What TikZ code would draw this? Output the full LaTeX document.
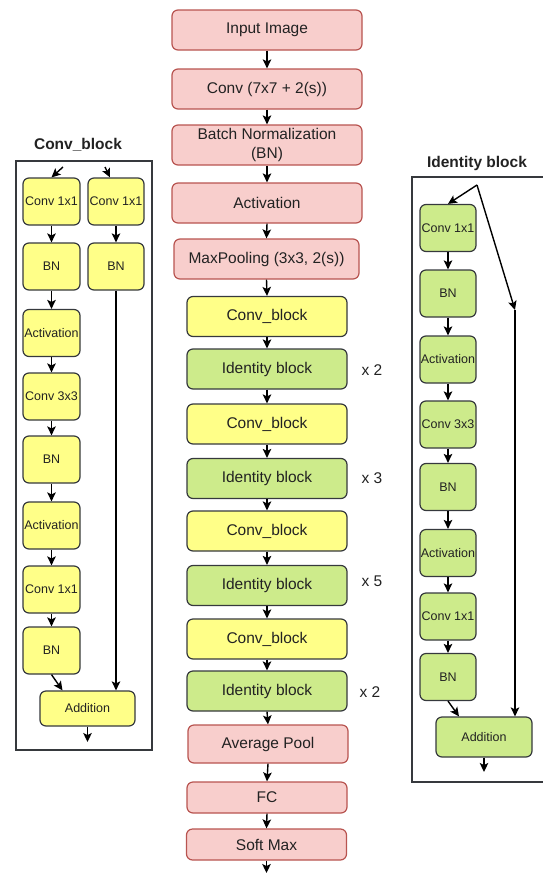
\documentclass[tikz,border=0pt]{standalone}
\usepackage{fontspec}
\setmainfont{Liberation Sans}
\usetikzlibrary{arrows.meta}

\definecolor{pinkfill}{HTML}{F8CECC}
\definecolor{pinkline}{HTML}{B85450}
\definecolor{yelfill}{HTML}{FFFF88}
\definecolor{grnfill}{HTML}{CDEB8B}
\definecolor{boxline}{HTML}{36393D}
\definecolor{txt}{HTML}{222222}

\begin{document}
\begin{tikzpicture}[x=1pt,y=-1pt,
 box/.style={rounded corners=6pt,line width=1.2pt,inner sep=0pt,align=center,text=txt},
 pinkbox/.style={box,draw=pinkline,fill=pinkfill,minimum width=190pt,minimum height=40pt,
   font=\fontsize{15.5}{19}\selectfont},
 midbox/.style={box,draw=boxline,minimum width=160pt,minimum height=40pt,
   font=\fontsize{15.5}{19}\selectfont},
 smallbox/.style={box,draw=boxline,minimum width=57pt,minimum height=47pt,
   font=\fontsize{12.5}{15}\selectfont},
 title/.style={font=\fontsize{15.5}{19}\selectfont\bfseries,text=txt},
 times/.style={font=\fontsize{15.5}{19}\selectfont,text=txt},
 frame/.style={draw=boxline,line width=1.5pt},
 arr/.style={-{Stealth[length=9pt,width=8.5pt,inset=2pt]},line width=1.4pt}
]
\useasboundingbox (0,0) rectangle (542,873);

% main column
\node[pinkbox] (inimg) at (267,30) {Input Image};
\node[pinkbox] (conv7) at (267,89) {Conv (7x7 + 2(s))};
\node[pinkbox] (bnorm) at (267,145) {Batch Normalization\\(BN)};
\node[pinkbox] (act) at (267,203) {Activation};
\node[pinkbox,minimum width=185pt] (maxpool) at (266.5,259) {MaxPooling (3x3, 2(s))};

\foreach \n/\y/\t/\c in {cbA/316.5/Conv\_block/yelfill, ibA/369/Identity block/grnfill,
  cbB/424/Conv\_block/yelfill, ibB/478.5/Identity block/grnfill,
  cbC/531/Conv\_block/yelfill, ibC/585.5/Identity block/grnfill,
  cbD/639/Conv\_block/yelfill, ibD/691/Identity block/grnfill}
  \node[midbox,fill=\c] (\n) at (267,\y) {\t};

\node[pinkbox,minimum width=160pt,minimum height=38pt] (avg) at (268,744) {Average Pool};
\node[pinkbox,minimum width=160pt,minimum height=31pt] (fc) at (267,797.5) {FC};
\node[pinkbox,minimum width=160pt,minimum height=31pt] (smax) at (266.5,844.5) {Soft Max};
\coordinate (out) at (266.5,873);

\foreach \a/\b in {inimg/conv7,conv7/bnorm,bnorm/act,act/maxpool,maxpool/cbA,cbA/ibA,
  ibA/cbB,cbB/ibB,ibB/cbC,cbC/ibC,ibC/cbD,cbD/ibD,ibD/avg,avg/fc,fc/smax}
  \draw[arr] (\a.south) -- (\b.north);
\draw[arr] (smax.south) -- (out);

\node[times] (tA) at (372,370) {x 2};
\node[times] (tB) at (372,478) {x 3};
\node[times] (tC) at (372,581) {x 5};
\node[times] (tD) at (370,692) {x 2};

% conv block
\node[title] (cbtitle) at (78,145) {Conv\_block};
\draw[frame] (16,161) rectangle (152,750);

\foreach \n/\y/\t in {lc1/201.5/Conv 1x1, lb1/266.5/BN, la1/333/Activation, lc3/396.5/Conv 3x3,
  lb2/459.5/BN, la2/525.5/Activation, lc4/589.5/Conv 1x1, lb3/650.5/BN}
  \node[smallbox,fill=yelfill] (\n) at (51.5,\y) {\t};
\node[smallbox,fill=yelfill,minimum width=56pt] (rc1) at (116,201.5) {Conv 1x1};
\node[smallbox,fill=yelfill,minimum width=56pt] (rb1) at (116,266.5) {BN};
\node[smallbox,fill=yelfill,minimum width=95pt,minimum height=35pt] (add) at (87.5,708.5) {Addition};

\foreach \a/\b in {lc1/lb1,lb1/la1,la1/lc3,lc3/lb2,lb2/la2,la2/lc4,lc4/lb3,rc1/rb1}
  \draw[arr] (\a) -- (\b);
\coordinate (lin) at (63,167);
\coordinate (rin) at (105,167);
\draw[arr] (lin) -- (lc1.north);
\draw[arr] (rin) -- ([xshift=-6pt]rc1.north);
\draw[arr] (rb1.south) -- (add.north -| rb1.south);
\draw[arr] (lb3.south) -- ([xshift=-25pt]add.north);
\coordinate (addout) at (87.5,742);
\draw[arr] (add.south) -- (addout);

% identity block
\node[title] (ibtitle) at (477,163) {Identity block};
\draw[frame] (546,177) -- (412,177) -- (412,782) -- (546,782);

\foreach \n/\y/\t in {ic1/228/Conv 1x1, ib1/293.5/BN, ia1/359.5/Activation, ic3/424.5/Conv 3x3,
  ib2/487/BN, ia2/553/Activation, ic4/616.5/Conv 1x1, ib3/677/BN}
  \node[smallbox,fill=grnfill,minimum width=56pt] (\n) at (448,\y) {\t};
\node[smallbox,fill=grnfill,minimum width=96pt,minimum height=40pt] (iadd) at (484,737) {Addition};

\foreach \a/\b in {ic1/ib1,ib1/ia1,ia1/ic3,ic3/ib2,ib2/ia2,ia2/ic4,ic4/ib3}
  \draw[arr] (\a) -- (\b);
\coordinate (iin) at (477,185);
\coordinate (skip) at (515,310);
\draw[arr] (iin) -- (ic1.north);
\draw[arr] (iin) -- (skip);
\draw[arr] (skip) -- (iadd.north -| skip);
\draw[arr] (ib3.south) -- ([xshift=-25pt]iadd.north);
\coordinate (iaddout) at (484,772);
\draw[arr] (iadd.south) -- (iaddout);

\end{tikzpicture}
\end{document}
